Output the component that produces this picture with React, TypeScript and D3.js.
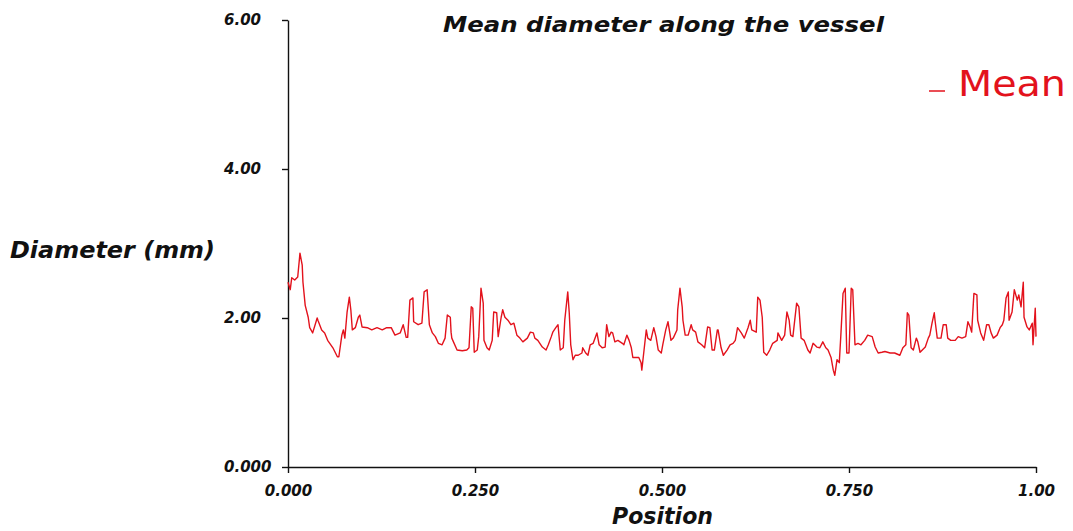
import { useEffect, useRef } from 'react'
import * as d3 from 'd3'

// position along the vessel (0..1)
const positions = [
  0.000, 0.003, 0.005, 0.009, 0.013, 0.016, 0.019, 0.020, 0.023, 0.027,
  0.029, 0.033, 0.039, 0.040, 0.045, 0.049, 0.053, 0.060, 0.066, 0.068,
  0.072, 0.074, 0.076, 0.079, 0.082, 0.084, 0.086, 0.090, 0.094, 0.096,
  0.099, 0.106, 0.112, 0.119, 0.126, 0.132, 0.138, 0.143, 0.150, 0.154,
  0.158, 0.160, 0.163, 0.167, 0.168, 0.174, 0.179, 0.182, 0.186, 0.189,
  0.193, 0.197, 0.201, 0.206, 0.210, 0.213, 0.217, 0.218, 0.219, 0.226,
  0.233, 0.239, 0.242, 0.245, 0.247, 0.249, 0.253, 0.255, 0.258, 0.261,
  0.262, 0.266, 0.269, 0.273, 0.275, 0.279, 0.281, 0.285, 0.287, 0.290,
  0.294, 0.298, 0.302, 0.306, 0.310, 0.314, 0.320, 0.324, 0.328, 0.330,
  0.334, 0.340, 0.345, 0.348, 0.352, 0.354, 0.358, 0.361, 0.364, 0.368,
  0.370, 0.374, 0.376, 0.378, 0.381, 0.384, 0.388, 0.393, 0.394, 0.398,
  0.401, 0.404, 0.408, 0.413, 0.416, 0.420, 0.424, 0.426, 0.429, 0.432,
  0.434, 0.437, 0.441, 0.447, 0.449, 0.453, 0.456, 0.459, 0.461, 0.467,
  0.469, 0.472, 0.473, 0.476, 0.479, 0.481, 0.485, 0.489, 0.492, 0.495,
  0.499, 0.501, 0.505, 0.508, 0.512, 0.515, 0.520, 0.521, 0.524, 0.527,
  0.528, 0.531, 0.535, 0.539, 0.541, 0.545, 0.548, 0.553, 0.557, 0.561,
  0.564, 0.567, 0.570, 0.574, 0.575, 0.579, 0.582, 0.587, 0.591, 0.595,
  0.598, 0.601, 0.606, 0.610, 0.615, 0.618, 0.620, 0.626, 0.628, 0.631,
  0.634, 0.636, 0.640, 0.644, 0.648, 0.654, 0.655, 0.660, 0.664, 0.667,
  0.670, 0.672, 0.675, 0.680, 0.683, 0.686, 0.690, 0.695, 0.698, 0.702,
  0.707, 0.711, 0.715, 0.719, 0.722, 0.726, 0.729, 0.731, 0.734, 0.737,
  0.739, 0.742, 0.745, 0.747, 0.750, 0.753, 0.755, 0.758, 0.762, 0.766,
  0.771, 0.775, 0.781, 0.785, 0.789, 0.794, 0.798, 0.805, 0.811, 0.818,
  0.822, 0.826, 0.828, 0.830, 0.833, 0.836, 0.840, 0.842, 0.845, 0.848,
  0.852, 0.856, 0.858, 0.861, 0.864, 0.865, 0.868, 0.873, 0.876, 0.880,
  0.882, 0.886, 0.892, 0.896, 0.901, 0.906, 0.909, 0.912, 0.914, 0.917,
  0.921, 0.922, 0.926, 0.930, 0.934, 0.937, 0.940, 0.943, 0.948, 0.952,
  0.955, 0.957, 0.960, 0.963, 0.964, 0.968, 0.971, 0.975, 0.977, 0.980,
  0.983, 0.984, 0.988, 0.991, 0.995, 0.996, 0.999, 1.000,
]

// mean diameter (mm)
const diameters = [
  2.48, 2.38, 2.54, 2.51, 2.55, 2.87, 2.71, 2.48, 2.17, 2.01,
  1.87, 1.80, 2.00, 1.97, 1.84, 1.80, 1.70, 1.60, 1.48, 1.48,
  1.77, 1.84, 1.73, 2.08, 2.28, 2.11, 1.84, 1.87, 2.01, 2.04,
  1.88, 1.87, 1.84, 1.87, 1.84, 1.87, 1.87, 1.77, 1.80, 1.91,
  1.74, 1.74, 2.24, 2.27, 1.95, 1.91, 1.93, 2.35, 2.38, 1.91,
  1.80, 1.75, 1.66, 1.64, 1.73, 2.04, 2.01, 1.81, 1.73, 1.57,
  1.56, 1.57, 1.60, 2.15, 2.13, 1.54, 1.57, 1.75, 2.40, 2.20,
  1.70, 1.60, 1.57, 1.70, 2.08, 2.07, 1.75, 2.01, 2.11, 2.01,
  1.97, 1.91, 1.93, 1.77, 1.73, 1.68, 1.73, 1.81, 1.80, 1.73,
  1.70, 1.61, 1.57, 1.64, 1.75, 1.81, 1.87, 1.91, 1.57, 1.60,
  1.97, 2.35, 2.07, 1.64, 1.44, 1.50, 1.50, 1.53, 1.60, 1.53,
  1.50, 1.64, 1.66, 1.80, 1.64, 1.60, 1.61, 1.91, 1.75, 1.81,
  1.80, 1.68, 1.70, 1.66, 1.64, 1.77, 1.70, 1.60, 1.47, 1.47,
  1.47, 1.40, 1.30, 1.57, 1.84, 1.73, 1.70, 1.87, 1.75, 1.57,
  1.53, 1.64, 1.84, 1.95, 1.70, 1.73, 1.84, 2.11, 2.40, 2.15,
  1.97, 1.77, 1.77, 1.91, 1.84, 1.81, 1.68, 1.64, 1.60, 1.88,
  1.87, 1.57, 1.57, 1.84, 1.84, 1.60, 1.50, 1.57, 1.64, 1.66,
  1.70, 1.87, 1.80, 1.73, 1.87, 1.97, 1.84, 1.81, 2.28, 2.24,
  2.01, 1.54, 1.50, 1.57, 1.66, 1.70, 1.80, 1.70, 1.77, 2.08,
  1.97, 1.77, 1.75, 2.20, 2.15, 1.73, 1.70, 1.57, 1.53, 1.66,
  1.61, 1.60, 1.68, 1.60, 1.57, 1.47, 1.30, 1.23, 1.44, 1.40,
  1.75, 2.33, 2.40, 1.53, 1.53, 2.40, 2.38, 1.64, 1.66, 1.64,
  1.70, 1.77, 1.75, 1.61, 1.53, 1.54, 1.55, 1.53, 1.53, 1.50,
  1.60, 1.64, 2.07, 2.04, 1.60, 1.57, 1.73, 1.68, 1.54, 1.57,
  1.61, 1.73, 1.77, 1.93, 2.07, 1.97, 1.73, 1.73, 1.91, 1.91,
  1.73, 1.70, 1.70, 1.75, 1.73, 1.75, 1.95, 1.88, 1.81, 2.33,
  2.31, 1.97, 1.80, 1.70, 1.91, 1.91, 1.80, 1.73, 1.77, 1.87,
  1.91, 1.97, 2.27, 2.35, 1.97, 2.08, 2.38, 2.24, 2.31, 2.15,
  2.48, 2.01, 1.88, 1.84, 1.93, 1.64, 2.13, 1.75,
]

const yTicks = [0, 2, 4, 6]
const yTickLabels = ['0.000', '2.00', '4.00', '6.00']
const xTicks = [0, 0.25, 0.5, 0.75, 1]
const xTickLabels = ['0.000', '0.250', '0.500', '0.750', '1.00']

const W = 1073
const H = 531
const FONT = '"DejaVu Sans", sans-serif'
const RED = '#e3121c'

export default function App() {
  const svgRef = useRef(null)

  useEffect(() => {
    const svg = d3.select(svgRef.current)
    svg.selectAll('*').remove()

    const x = d3.scaleLinear().domain([0, 1]).range([288, 1036])
    const y = d3.scaleLinear().domain([0, 6]).range([467, 20])

    // Y axis (labels left-aligned, like the original)
    svg.append('g').attr('transform', 'translate(288,0)')
      .call(d3.axisLeft(y).tickValues(yTicks).tickSize(6).tickSizeOuter(0)
        .tickFormat((d, i) => yTickLabels[i]))
      .call(ax => ax.select('.domain').attr('stroke', '#111').attr('stroke-width', 1.4))
      .call(ax => ax.selectAll('.tick line').attr('stroke', '#111').attr('stroke-width', 1.4))
      .call(ax => ax.selectAll('text')
        .attr('x', -64).attr('text-anchor', 'start').attr('fill', '#111')
        .attr('font-family', FONT).attr('font-size', '15px')
        .attr('font-weight', 'bold').attr('font-style', 'italic'))

    // X axis
    svg.append('g').attr('transform', 'translate(0,467)')
      .call(d3.axisBottom(x).tickValues(xTicks).tickSize(6).tickSizeOuter(0)
        .tickFormat((d, i) => xTickLabels[i]))
      .call(ax => ax.select('.domain').attr('stroke', '#111').attr('stroke-width', 1.4))
      .call(ax => ax.selectAll('.tick line').attr('stroke', '#111').attr('stroke-width', 1.4))
      .call(ax => ax.selectAll('text')
        .attr('y', 18).attr('fill', '#111')
        .attr('font-family', FONT).attr('font-size', '15px')
        .attr('font-weight', 'bold').attr('font-style', 'italic'))

    // Mean line
    const pts = positions.map((p, i) => [p, diameters[i]])
    const line = d3.line().x(d => x(d[0])).y(d => y(d[1]))
    svg.append('path')
      .datum(pts)
      .attr('d', line)
      .attr('fill', 'none')
      .attr('stroke', RED)
      .attr('stroke-width', 1.4)
      .attr('stroke-linejoin', 'round')

    // Titles
    const bi = sel => sel
      .attr('font-family', FONT).attr('font-weight', 'bold')
      .attr('font-style', 'italic').attr('fill', '#111')
      .attr('lengthAdjust', 'spacingAndGlyphs')

    svg.append('text').call(bi)
      .attr('x', 443).attr('y', 32).attr('font-size', '21px')
      .attr('textLength', 441)
      .text('Mean diameter along the vessel')

    svg.append('text').call(bi)
      .attr('x', 10).attr('y', 258).attr('font-size', '23px')
      .attr('textLength', 205)
      .text('Diameter (mm)')

    svg.append('text').call(bi)
      .attr('x', 612).attr('y', 524).attr('font-size', '23px')
      .attr('textLength', 101)
      .text('Position')

    // Legend
    svg.append('line')
      .attr('x1', 929).attr('x2', 945).attr('y1', 91).attr('y2', 91)
      .attr('stroke', RED).attr('stroke-width', 1.5)
    svg.append('text')
      .attr('x', 958).attr('y', 96)
      .attr('font-family', FONT).attr('font-size', '36px')
      .attr('fill', RED)
      .attr('textLength', 108).attr('lengthAdjust', 'spacingAndGlyphs')
      .text('Mean')
  }, [])

  return (
    <div style={{ position: 'absolute', left: 0, top: 0, width: W, height: H, background: '#fff' }}>
      <svg ref={svgRef} width={W} height={H} style={{ display: 'block' }} />
    </div>
  )
}
